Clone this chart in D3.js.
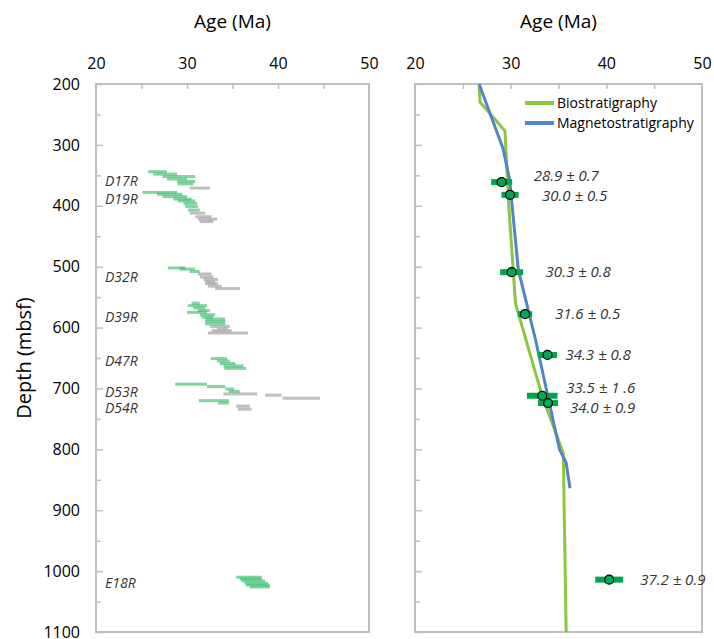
<!DOCTYPE html>
<html>
<head>
<meta charset="utf-8">
<script src="https://cdn.jsdelivr.net/npm/d3@7"></script>
<style>
  body { margin: 0; background: #fff; }
  svg { display: block; font-family: "Open Sans", "Liberation Sans", sans-serif; }
</style>
</head>
<body>
<svg id="chart"></svg>
<script>
let width = 714
let height = 639

// tick labels
let ageTicks = [20, 30, 40, 50]
let ageMinor = [25, 30, 35, 40, 45]
let depthTicks = [200, 300, 400, 500, 600, 700, 800, 900, 1000, 1100]
let depthMinor = [250, 350, 450, 550, 650, 750, 850, 950, 1050]

// core names (left panel)
let coreNames = ["D17R", "D19R", "D32R", "D39R", "D47R", "D53R", "D54R", "E18R"]
let coreDepths = [359, 389, 517, 583, 655, 706, 732, 1019]

// age ranges per sample: depth, min age, max age, kind (g = green, x = grey)
let barDepth = [344, 348, 352, 356, 360, 364, 371,
  378, 381, 385, 389, 392, 396, 401, 407, 412, 418, 422, 426,
  502, 504, 508, 512, 517, 521, 525, 528, 532, 536,
  560, 564, 568, 572, 575, 579, 583, 586, 590, 594, 598, 602, 605, 609,
  651, 655, 659, 663, 667,
  693, 697, 701, 705, 709, 711, 716,
  720, 724, 729, 734,
  1010, 1013, 1016, 1020, 1023, 1026]
let barMin = [25.7, 26.3, 27.3, 27.8, 28.9, 29.0, 30.3,
  25.1, 26.7, 27.3, 28.5, 29.0, 29.6, 29.8, 30.1, 30.3, 30.9, 31.2, 31.4,
  27.9, 29.2, 30.3, 31.2, 31.4, 31.8, 32.0, 32.0, 32.3, 33.1,
  30.5, 30.1, 30.7, 31.2, 30.0, 31.4, 31.6, 32.0, 32.0, 32.0, 32.5, 33.3, 32.7, 32.3,
  32.6, 33.3, 33.6, 34.0, 34.1,
  28.7, 32.2, 34.2, 34.6, 34.0, 38.6, 40.5,
  31.3, 33.4, 35.4, 35.6,
  35.4, 35.8, 36.0, 36.3, 36.5, 36.9]
let barMax = [27.8, 28.9, 30.9, 30.0, 30.9, 30.7, 32.5,
  28.9, 29.5, 30.0, 30.5, 30.9, 31.1, 31.2, 31.4, 32.0, 32.7, 33.3, 32.9,
  29.8, 30.9, 31.4, 32.7, 32.9, 33.4, 33.1, 33.4, 33.8, 35.8,
  31.4, 32.2, 32.0, 32.5, 32.2, 33.1, 32.9, 34.2, 34.2, 34.2, 34.7, 34.5, 34.9, 36.7,
  34.4, 34.7, 35.3, 36.2, 36.5,
  32.2, 34.2, 35.2, 35.8, 37.7, 40.4, 44.6,
  34.6, 34.6, 36.9, 37.1,
  38.2, 38.2, 38.6, 38.9, 39.1, 39.1]
let barKind = ["g", "g", "g", "g", "g", "g", "x",
  "g", "g", "g", "g", "g", "g", "g", "g", "x", "x", "x", "x",
  "g", "g", "g", "x", "x", "x", "x", "x", "x", "x",
  "g", "g", "g", "g", "g", "g", "g", "g", "g", "g", "x", "x", "x", "x",
  "g", "g", "g", "g", "g",
  "g", "g", "g", "g", "x", "x", "x",
  "g", "g", "x", "x",
  "g", "g", "g", "g", "g", "g"]

// right panel age models
let bioAge = [26.7, 26.8, 29.4, 29.8, 30.5, 33.3, 35.5, 35.8]
let bioDepth = [200, 230, 277, 400, 560, 713, 806, 1100]
let magAge = [26.7, 29.2, 29.9, 30.4, 30.8, 32.6, 35.1, 35.8, 36.2]
let magDepth = [200, 306, 358, 440, 505, 620, 800, 822, 864]

// dated samples
let sampleAge = [29.06, 29.93, 30.1, 31.5, 33.85, 33.3, 33.9, 40.3]
let sampleHalf = [1.1, 0.9, 1.2, 0.75, 1.0, 1.6, 1.05, 1.46]
let sampleDepth = [361, 382, 509, 578, 645, 712, 724, 1014]
let sampleLabel = ["28.9 ± 0.7", "30.0 ± 0.5", "30.3 ± 0.8", "31.6 ± 0.5",
  "34.3 ± 0.8", "33.5 ± 1 .6", "34.0 ± 0.9", "37.2 ± 0.9"]

let labelShift = [[32, -6], [32, 1], [34, 0], [30, 0], [18, 0], [24, -8], [22, 4.5], [31, 0]]

let axisColor = "#bfbfbf"
let textColor = "#000"

let svg = d3.select("#chart")
svg.attr("width", width).attr("height", height)

let xL = d3.scaleLinear().domain([20, 50]).range([96, 369])
let xR = d3.scaleLinear().domain([20, 50]).range([415, 702])
let yScale = d3.scaleLinear().domain([200, 1100]).range([84, 632])

let drawFrame = (xScale, withLabels) => {
  let [x0, x1] = xScale.range()
  let [y0, y1] = yScale.range()

  // top labels
  let top = svg.append("g")
    .attr("transform", "translate(0," + y0 + ")")
    .call(d3.axisTop(xScale).tickValues(ageTicks).tickSize(0).tickPadding(15).tickFormat(d3.format("d")))
  top.select(".domain").remove()
  top.selectAll("text").attr("font-size", 16).attr("font-family", "Open Sans").attr("fill", textColor)

  // inner top ticks
  let tt = svg.append("g")
    .attr("transform", "translate(0," + y0 + ")")
    .call(d3.axisBottom(xScale).tickValues(ageMinor).tickSize(5).tickFormat(""))
  tt.select(".domain").remove()
  tt.selectAll("line").attr("stroke", axisColor).attr("stroke-width", 1.5)

  // inner left ticks
  let lt = svg.append("g")
    .attr("transform", "translate(" + x0 + ",0)")
    .call(d3.axisRight(yScale).tickValues(depthTicks).tickSize(7).tickFormat(""))
  lt.select(".domain").remove()
  lt.selectAll("line").attr("stroke", axisColor).attr("stroke-width", 1.5)
  let lm = svg.append("g")
    .attr("transform", "translate(" + x0 + ",0)")
    .call(d3.axisRight(yScale).tickValues(depthMinor).tickSize(5).tickFormat(""))
  lm.select(".domain").remove()
  lm.selectAll("line").attr("stroke", axisColor).attr("stroke-width", 1.5)

  if (withLabels) {
    let la = svg.append("g")
      .attr("transform", "translate(" + x0 + ",0)")
      .call(d3.axisLeft(yScale).tickValues(depthTicks).tickSize(0).tickPadding(16).tickFormat(d3.format("d")))
    la.select(".domain").remove()
    la.selectAll("text").attr("font-size", 16).attr("font-family", "Open Sans").attr("fill", textColor)
  }

  svg.append("rect")
    .attr("x", x0).attr("y", y0)
    .attr("width", x1 - x0).attr("height", y1 - y0)
    .attr("fill", "none")
    .attr("stroke", axisColor)
    .attr("stroke-width", 2)

  svg.append("text")
    .attr("x", (x0 + x1) / 2)
    .attr("y", 21)
    .attr("text-anchor", "middle")
    .attr("dy", "0.35em")
    .attr("font-size", 19)
    .attr("fill", textColor)
    .text("Age (Ma)")
}

let drawLeft = () => {
  let bars = barDepth.map((d, i) => ({ depth: d, lo: barMin[i], hi: barMax[i], kind: barKind[i] }))
  svg.append("g").selectAll("rect")
    .data(bars)
    .enter()
    .append("rect")
    .attr("x", (d) => xL(d.lo))
    .attr("y", (d) => yScale(d.depth) - 1.5)
    .attr("width", (d) => xL(d.hi) - xL(d.lo))
    .attr("height", 3)
    .attr("fill", (d) => d.kind == "g" ? "#2fb862" : "#a8a8a8")
    .attr("fill-opacity", (d) => d.kind == "g" ? 0.6 : 0.75)

  svg.append("g").selectAll("text")
    .data(coreNames)
    .enter()
    .append("text")
    .attr("x", 105)
    .attr("y", (d, i) => yScale(coreDepths[i]))
    .attr("dy", "0.35em")
    .attr("font-size", 14)
    .attr("font-style", "italic")
    .attr("fill", "#333")
    .text((d) => d)
}

let drawRight = () => {
  let line = d3.line().x((d) => xR(d[0])).y((d) => yScale(d[1]))

  svg.append("path")
    .datum(bioAge.map((a, i) => [a, bioDepth[i]]))
    .attr("d", line)
    .attr("fill", "none")
    .attr("stroke", "#8cc63f")
    .attr("stroke-width", 3)

  svg.append("path")
    .datum(magAge.map((a, i) => [a, magDepth[i]]))
    .attr("d", line)
    .attr("fill", "none")
    .attr("stroke", "#4f86c6")
    .attr("stroke-width", 3)

  let samples = sampleAge.map((a, i) => ({ age: a, half: sampleHalf[i], depth: sampleDepth[i], label: sampleLabel[i], shift: labelShift[i] }))

  svg.append("g").selectAll("rect")
    .data(samples)
    .enter()
    .append("rect")
    .attr("x", (d) => xR(d.age - d.half))
    .attr("y", (d) => yScale(d.depth) - 3)
    .attr("width", (d) => xR(d.age + d.half) - xR(d.age - d.half))
    .attr("height", 6)
    .attr("fill", "#00a651")

  svg.append("g").selectAll("circle")
    .data(samples)
    .enter()
    .append("circle")
    .attr("cx", (d) => xR(d.age))
    .attr("cy", (d) => yScale(d.depth))
    .attr("r", 4.5)
    .attr("fill", "#00a651")
    .attr("stroke", "#000")
    .attr("stroke-width", 1.2)

  svg.append("g").selectAll("text")
    .data(samples)
    .enter()
    .append("text")
    .attr("x", (d) => xR(d.age) + d.shift[0])
    .attr("y", (d) => yScale(d.depth) + d.shift[1])
    .attr("dy", "0.35em")
    .attr("font-size", 15)
    .attr("font-style", "italic")
    .attr("fill", "#333")
    .text((d) => d.label)

  // legend
  let legend = [["Biostratigraphy", "#8cc63f"], ["Magnetostratigraphy", "#4f86c6"]]
  let lg = svg.append("g").selectAll("g")
    .data(legend)
    .enter()
    .append("g")
    .attr("transform", (d, i) => "translate(525," + (103 + i * 20) + ")")
  lg.append("line")
    .attr("x1", 0).attr("x2", 29)
    .attr("stroke", (d) => d[1])
    .attr("stroke-width", 4)
  lg.append("text")
    .attr("x", 32)
    .attr("dy", "0.35em")
    .attr("font-size", 14)
    .attr("fill", "#000")
    .text((d) => d[0])
}

drawFrame(xL, true)
drawFrame(xR, false)
drawLeft()
drawRight()

svg.append("text")
  .attr("transform", "translate(24," + 358 + ") rotate(-90)")
  .attr("text-anchor", "middle")
  .attr("dy", "0.35em")
  .attr("font-size", 20)
  .attr("fill", textColor)
  .text("Depth (mbsf)")
</script>
</body>
</html>
